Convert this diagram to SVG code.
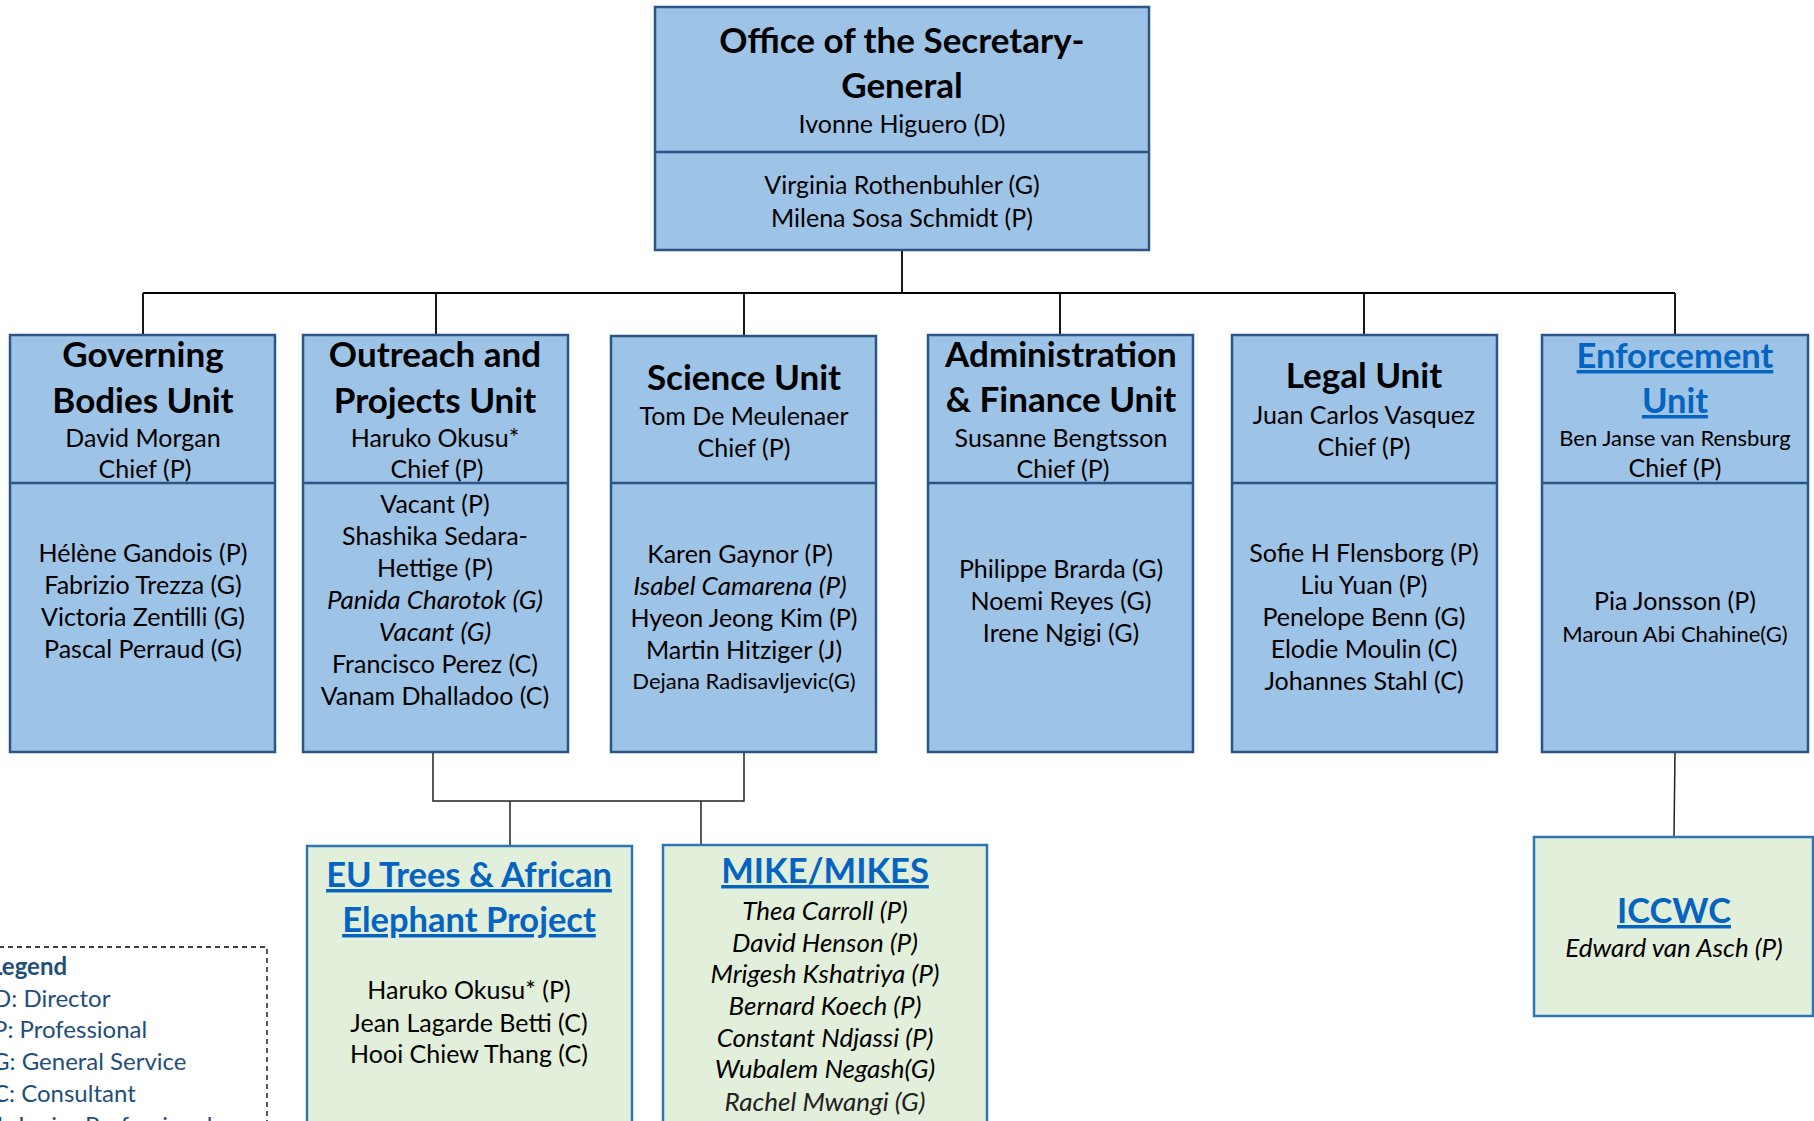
<svg xmlns="http://www.w3.org/2000/svg" width="1814" height="1121" viewBox="0 0 1814 1121">
<style>
  .bg{fill:#ffffff}
  .unit{fill:#9DC3E6;stroke:#2A5587;stroke-width:2.5}
  .div{stroke:#2A5587;stroke-width:2.5}
  .proj{fill:#E2EFDA;stroke:#2E75B6;stroke-width:2.5}
  .conn{fill:none;stroke:#000000;stroke-width:1.8}
  .conn2{fill:none;stroke:#222222;stroke-width:1.5}
  text{font-family:Lato,"Liberation Sans",sans-serif;fill:#000000;text-anchor:middle}
  .t{font-size:35px;font-weight:bold}
  .n{font-size:25px}
  .s{font-size:22px}
  .i{font-size:26px;font-style:italic}
  .lk{font-size:34.5px;font-weight:bold;fill:#0563C1;text-decoration:underline}
  .lg{font-size:24px;fill:#1F4E79;text-anchor:start}
  .lgb{font-size:24px;fill:#1F4E79;font-weight:bold;text-anchor:start}
  .legend{fill:none;stroke:#000000;stroke-width:1.3;stroke-dasharray:5 4}
</style>
<rect class="bg" x="0" y="0" width="1814" height="1121"/>

<g id="connectors">
  <path class="conn" d="M902 251 V293"/>
  <path class="conn" d="M143 293 H1675"/>
  <path class="conn" d="M143 293 V335 M436 293 V335 M744 293 V336 M1060 293 V335 M1364 293 V335 M1675 293 V335"/>
  <path class="conn2" d="M433 752 V801 H744 V752"/>
  <path class="conn2" d="M510 801 V846"/>
  <path class="conn2" d="M701 801 V845"/>
  <path class="conn2" d="M1675 752 L1674 837"/>
</g>

<g id="office-sg">
  <rect class="unit" x="655" y="7" width="494" height="243"/>
  <line class="div" x1="655" y1="152" x2="1149" y2="152"/>
  <text class="t" x="902" y="53">Office of the Secretary-</text>
  <text class="t" x="902" y="98">General</text>
  <text class="n" x="902" y="133">Ivonne Higuero (D)</text>
  <text class="n" x="902" y="194">Virginia Rothenbuhler (G)</text>
  <text class="n" x="902" y="227">Milena Sosa Schmidt (P)</text>
</g>

<g id="governing-bodies">
  <rect class="unit" x="10" y="335" width="265" height="417"/>
  <line class="div" x1="10" y1="483" x2="275" y2="483"/>
  <text class="t" x="143" y="367">Governing</text>
  <text class="t" x="143" y="413">Bodies Unit</text>
  <text class="n" x="143" y="447">David Morgan</text>
  <text class="n" x="145" y="478">Chief (P)</text>
  <text class="n" x="143" y="562">Hélène Gandois (P)</text>
  <text class="n" x="143" y="594">Fabrizio Trezza (G)</text>
  <text class="n" x="143" y="626">Victoria Zentilli (G)</text>
  <text class="n" x="143" y="658">Pascal Perraud (G)</text>
</g>

<g id="outreach-projects">
  <rect class="unit" x="303" y="335" width="265" height="417"/>
  <line class="div" x1="303" y1="483" x2="568" y2="483"/>
  <text class="t" x="435" y="367">Outreach and</text>
  <text class="t" x="435" y="413">Projects Unit</text>
  <text class="n" x="435" y="447">Haruko Okusu*</text>
  <text class="n" x="437" y="478">Chief (P)</text>
  <text class="n" x="435" y="513">Vacant (P)</text>
  <text class="n" x="435" y="545">Shashika Sedara-</text>
  <text class="n" x="435" y="577">Hettige (P)</text>
  <text class="i" x="435" y="609">Panida Charotok (G)</text>
  <text class="i" x="435" y="641">Vacant (G)</text>
  <text class="n" x="435" y="673">Francisco Perez (C)</text>
  <text class="n" x="435" y="705">Vanam Dhalladoo (C)</text>
</g>

<g id="science">
  <rect class="unit" x="611" y="336" width="265" height="416"/>
  <line class="div" x1="611" y1="483" x2="876" y2="483"/>
  <text class="t" x="744" y="390">Science Unit</text>
  <text class="n" x="744" y="425">Tom De Meulenaer</text>
  <text class="n" x="744" y="457">Chief (P)</text>
  <text class="n" x="740" y="563">Karen Gaynor (P)</text>
  <text class="i" x="740" y="595">Isabel Camarena (P)</text>
  <text class="n" x="744" y="627">Hyeon Jeong Kim (P)</text>
  <text class="n" x="744" y="659">Martin Hitziger (J)</text>
  <text class="s" x="744" y="689">Dejana Radisavljevic(G)</text>
</g>

<g id="admin-finance">
  <rect class="unit" x="928" y="335" width="265" height="417"/>
  <line class="div" x1="928" y1="483" x2="1193" y2="483"/>
  <text class="t" x="1061" y="367">Administration</text>
  <text class="t" x="1061" y="412">&amp; Finance Unit</text>
  <text class="n" x="1061" y="447">Susanne Bengtsson</text>
  <text class="n" x="1063" y="478">Chief (P)</text>
  <text class="n" x="1061" y="578">Philippe Brarda (G)</text>
  <text class="n" x="1061" y="610">Noemi Reyes (G)</text>
  <text class="n" x="1061" y="642">Irene Ngigi (G)</text>
</g>

<g id="legal">
  <rect class="unit" x="1232" y="335" width="265" height="417"/>
  <line class="div" x1="1232" y1="483" x2="1497" y2="483"/>
  <text class="t" x="1364" y="388">Legal Unit</text>
  <text class="n" x="1364" y="424">Juan Carlos Vasquez</text>
  <text class="n" x="1364" y="456">Chief (P)</text>
  <text class="n" x="1364" y="562">Sofie H Flensborg (P)</text>
  <text class="n" x="1364" y="594">Liu Yuan (P)</text>
  <text class="n" x="1364" y="626">Penelope Benn (G)</text>
  <text class="n" x="1364" y="658">Elodie Moulin (C)</text>
  <text class="n" x="1364" y="690">Johannes Stahl (C)</text>
</g>

<g id="enforcement">
  <rect class="unit" x="1542" y="335" width="266" height="417"/>
  <line class="div" x1="1542" y1="483" x2="1808" y2="483"/>
  <text class="lk" x="1675" y="368">Enforcement</text>
  <text class="lk" x="1675" y="413">Unit</text>
  <text class="s" x="1675" y="446">Ben Janse van Rensburg</text>
  <text class="n" x="1675" y="477">Chief (P)</text>
  <text class="n" x="1675" y="610">Pia Jonsson (P)</text>
  <text class="s" x="1675" y="642">Maroun Abi Chahine(G)</text>
</g>

<g id="eu-trees">
  <rect class="proj" x="307" y="846" width="325" height="300"/>
  <text class="lk" x="469" y="887">EU Trees &amp; African</text>
  <text class="lk" x="469" y="932">Elephant Project</text>
  <text class="n" x="469" y="999">Haruko Okusu* (P)</text>
  <text class="n" x="469" y="1032">Jean Lagarde Betti (C)</text>
  <text class="n" x="469" y="1063">Hooi Chiew Thang (C)</text>
</g>

<g id="mike-mikes">
  <rect class="proj" x="663" y="845" width="324" height="300"/>
  <text class="lk" x="825" y="883">MIKE/MIKES</text>
  <text class="i" x="825" y="920">Thea Carroll (P)</text>
  <text class="i" x="825" y="952">David Henson (P)</text>
  <text class="i" x="825" y="983">Mrigesh Kshatriya (P)</text>
  <text class="i" x="825" y="1015">Bernard Koech (P)</text>
  <text class="i" x="825" y="1047">Constant Ndjassi (P)</text>
  <text class="i" x="825" y="1078">Wubalem Negash(G)</text>
  <text class="i" x="825" y="1111" style="fill:#222222">Rachel Mwangi (G)</text>
</g>

<g id="iccwc">
  <rect class="proj" x="1534" y="837" width="279" height="179"/>
  <text class="lk" x="1674" y="923">ICCWC</text>
  <text class="i" x="1674" y="957">Edward van Asch (P)</text>
</g>

<g id="legend">
  <rect class="legend" x="-10" y="947" width="277" height="200"/>
  <text class="lgb" x="-10" y="975">Legend</text>
  <text class="lg" x="-7" y="1007">D: Director</text>
  <text class="lg" x="-7" y="1038">P: Professional</text>
  <text class="lg" x="-8" y="1070">G: General Service</text>
  <text class="lg" x="-7" y="1102">C: Consultant</text>
  <text class="lg" x="-7" y="1134">J: Junior Professional</text>
</g>
</svg>
